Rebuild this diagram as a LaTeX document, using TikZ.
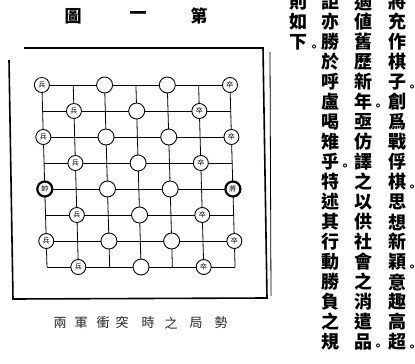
\documentclass[tikz,border=0pt]{standalone}
\usepackage{fontspec}
\newfontfamily\cjk{Noto Sans CJK TC}
\usetikzlibrary{positioning}

\tikzset{
  hanzi/.style={font=\cjk\bfseries\fontsize{18}{18}\selectfont, inner sep=0pt},
  juhao/.style={font=\cjk\bfseries\fontsize{12}{12}\selectfont, inner sep=0pt},
  biaoti/.style={font=\cjk\bfseries\fontsize{17}{17}\selectfont, inner sep=0pt},
  tishi/.style={font=\cjk\fontsize{13}{13}\selectfont, inner sep=0pt, text=black!85},
  spot/.style={circle, draw, line width=0.9pt, fill=white, minimum size=16pt,
    inner sep=0pt},
  piece/.style={spot, minimum size=15pt, font=\cjk\fontsize{7}{7}\selectfont},
  chief/.style={piece, line width=2.2pt},
  gridline/.style={line width=0.8pt},
  frame/.style={line width=1.6pt}
}

% one column of vertical text: name, x, characters
\newcommand\zhcol[3]{%
  \foreach \ch [count=\i from 0] in {#3}
    \node[hanzi] (#1-\i) at ({#2},{2+20*\i}) {\ch};}

\begin{document}
\begin{tikzpicture}[x=1pt, y=-1pt]
  \useasboundingbox (0,0) rectangle (415,364);
  \clip (0,0) rectangle (415,364);

  % title
  \node[biaoti] (t1) at (73,16) {圖};
  \node[biaoti] (t2) at (138,16) {一};
  \node[biaoti] (t3) at (199,16) {第};

  % frame of the board
  \draw[frame] (24,48) -- (263,48) -- (267,298) -- (13,299) -- (9,60);
  \draw[line width=0.8pt] (270,52) -- (271,296);

  \begin{scope}[xslant=-0.028]
    % grid points
    \foreach \c in {1,...,7}
      \foreach \r in {1,...,8}
        \coordinate (p-\c-\r) at ({39.5+31.35*(\c-1)},{85+26*(\r-1)});
    \foreach \r in {1,...,8}
      \draw[gridline] (p-1-\r) -- (p-7-\r);
    \foreach \c in {1,...,7}
      \draw[gridline] (p-\c-1) -- (p-\c-8);

    % empty points
    \foreach \r in {1,3,5,7} {
      \foreach \c in {3,5}
        \node[spot] (n-\c-\r) at (p-\c-\r) {};
    }
    \foreach \r in {2,4,6,8}
      \node[spot] (n-4-\r) at (p-4-\r) {};

    % left side
    \foreach \r in {1,3,7}
      \node[piece] (n-1-\r) at (p-1-\r) {兵};
    \foreach \r in {2,4,6,8}
      \node[piece] (n-2-\r) at (p-2-\r) {兵};
    \node[chief] (n-1-5) at (p-1-5) {帥};

    % right side
    \foreach \r in {1,3,7}
      \node[piece] (n-7-\r) at (p-7-\r) {卒};
    \foreach \r in {2,4,6,8}
      \node[piece] (n-6-\r) at (p-6-\r) {卒};
    \node[chief] (n-7-5) at (p-7-5) {將};
  \end{scope}

  % caption under the board
  \foreach \ch/\x [count=\i] in {兩/60,軍/81,衝/103,突/122,時/148,之/171,局/196,勢/221}
    \node[tishi] (cap-\i) at (\x,323) {\ch};

  % text columns, right to left
  \zhcol{ca}{397}{將,充,作,棋,子,創,爲,戰,俘,棋,思,想,新,穎,意,趣,高,超}
  \zhcol{cb}{363}{適,値,舊,歷,新,年,亟,仿,譯,之,以,供,社,會,之,消,遣,品}
  \zhcol{cc}{330}{詎,亦,勝,於,呼,盧,喝,雉,乎,特,述,其,行,動,勝,負,之,規}
  \zhcol{cd}{298}{則,如,下}

  % full stops
  \node[juhao] (ja1) at ([shift={(15,6)}]ca-4) {。};
  \node[juhao] (ja2) at ([shift={(15,6)}]ca-9) {。};
  \node[juhao] (ja3) at ([shift={(15,6)}]ca-13) {。};
  \node[juhao] (ja4) at ([shift={(15,6)}]ca-17) {。};
  \node[juhao] (jb1) at ([shift={(15,5)}]cb-5) {。};
  \node[juhao] (jb2) at ([shift={(15,5)}]cb-17) {。};
  \node[juhao] (jc1) at ([shift={(15,5)}]cc-8) {。};
  \node[juhao] (jd1) at ([shift={(16,6)}]cd-2) {。};
\end{tikzpicture}
\end{document}
